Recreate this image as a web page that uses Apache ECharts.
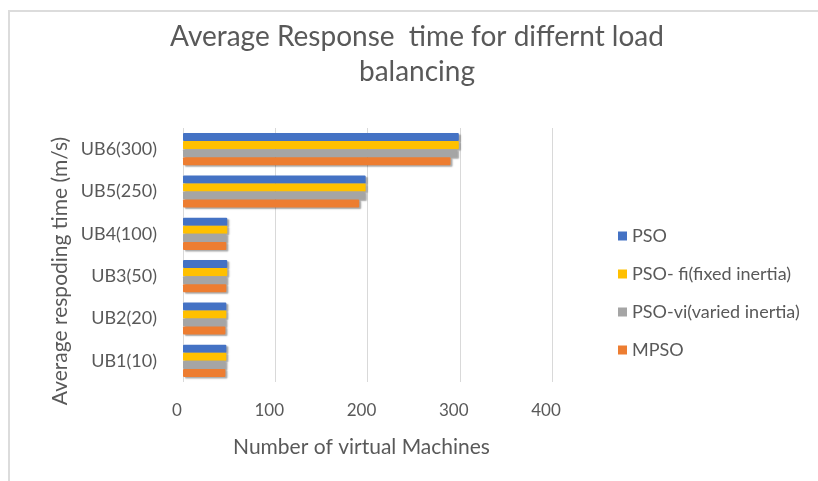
<!DOCTYPE html>
<html>
<head>
<meta charset="utf-8">
<script src="https://cdn.jsdelivr.net/npm/echarts@6/dist/echarts.min.js"></script>
<style>
  html, body { margin: 0; padding: 0; background: #fff; }
  #chart { width: 818px; height: 481px; position: relative; }
  #frame { position: absolute; left: 8px; top: 10px; width: 812px; height: 475px;
           border-left: 2px solid #dcdcdc; border-top: 2px solid #dcdcdc; pointer-events: none; }
</style>
</head>
<body>
<div id="chart"></div>
<div id="frame"></div>
<script>
const categories = ['UB1(10)', 'UB2(20)', 'UB3(50)', 'UB4(100)', 'UB5(250)', 'UB6(300)'];
const psoValues   = [47, 47, 48, 48, 198, 299];
const psoFiValues = [47, 47, 48, 48, 198, 299];
const psoViValues = [46, 46, 47, 47, 197, 297];
const mpsoValues  = [46, 46, 47, 47, 191, 290];
const seriesNames = ['PSO', 'PSO- fi(fixed inertia)', 'PSO-vi(varied inertia)', 'MPSO'];
const seriesColors = ['#4472C4', '#FFC000', '#A5A5A5', '#ED7D31'];
const xTicks = { min: 0, max: 400, interval: 100 };

const chart = echarts.init(document.getElementById('chart'));
const font = 'Lato, "Open Sans", sans-serif';
const txt = '#595959';

const seriesData = [psoValues, psoFiValues, psoViValues, mpsoValues];
const series = seriesData.map((d, i) => ({
  name: seriesNames[i],
  type: 'bar',
  data: d,
  barGap: '0%',
  barCategoryGap: '24%',
  itemStyle: {
    color: seriesColors[i],
    borderRadius: 1,
    shadowColor: 'rgba(0,0,0,0.35)',
    shadowOffsetX: 2,
    shadowOffsetY: 1.5,
    shadowBlur: 1.5
  }
}));

chart.setOption({
  backgroundColor: '#ffffff',
  animation: false,
  textStyle: { fontFamily: font },
  title: {
    text: 'Average Response  time for differnt load\nbalancing',
    left: 412,
    textAlign: 'center',
    top: 14,
    textStyle: { fontFamily: font, fontSize: 28, fontWeight: 'normal', color: txt, lineHeight: 35 }
  },
  legend: {
    orient: 'vertical',
    left: 613,
    top: 222,
    itemWidth: 9,
    itemHeight: 9,
    itemGap: 20,
    icon: 'rect',
    data: seriesNames,
    textStyle: { fontFamily: font, fontSize: 18, color: txt }
  },
  grid: { left: 183, top: 128, width: 369, height: 254, containLabel: false },
  xAxis: {
    type: 'value',
    min: xTicks.min, max: xTicks.max, interval: xTicks.interval,
    name: 'Number of virtual Machines',
    nameLocation: 'middle',
    nameGap: 55,
    nameTextStyle: { fontFamily: font, fontSize: 21, color: txt, padding: [0, 12, 0, 0] },
    axisLine: { show: false },
    axisTick: { show: false },
    axisLabel: { fontFamily: font, fontSize: 17, color: txt, margin: 20, padding: [0, 12, 0, 0] },
    splitLine: { lineStyle: { color: '#d9d9d9', width: 1 } }
  },
  yAxis: {
    type: 'category',
    data: categories,
    name: 'Average respoding time (m/s)',
    nameLocation: 'middle',
    nameGap: 112,
    nameTextStyle: { fontFamily: font, fontSize: 21, color: txt, padding: [0, 32, 0, 0] },
    axisLine: { show: false },
    axisTick: { show: false },
    axisLabel: { fontFamily: font, fontSize: 18, color: txt, margin: 26 },
    splitLine: { show: false }
  },
  series: series
});
</script>
</body>
</html>
